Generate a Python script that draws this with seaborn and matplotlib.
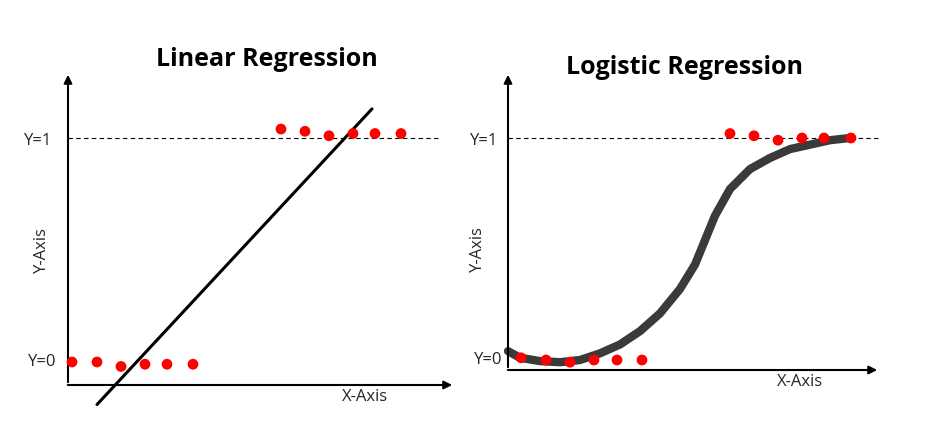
import matplotlib
matplotlib.use("Agg")
import matplotlib.pyplot as plt
import seaborn as sns
import numpy as np

sns.set_theme(style="white")
plt.rcParams['font.family'] = ['Open Sans', 'DejaVu Sans']

# Linear panel data (x units, y in 0..1)
lin_x0 = [0.16, 1.16, 2.12, 3.08, 3.96, 5.0]
lin_y0 = [0.0, 0.0, -0.02, -0.01, -0.01, -0.01]
lin_x1 = [8.52, 9.48, 10.44, 11.4, 12.28, 13.32]
lin_y1 = [1.04, 1.03, 1.01, 1.02, 1.02, 1.02]
lin_line_x = [1.16, 12.16]
lin_line_y = [-0.19, 1.13]

# Logistic panel data
log_x0 = [0.52, 1.52, 2.48, 3.44, 4.36, 5.36]
log_y0 = [0.01, 0.0, -0.01, 0.0, 0.0, 0.0]
log_x1 = [8.88, 9.84, 10.8, 11.76, 12.64, 13.72]
log_y1 = [1.02, 1.01, 0.99, 1.0, 1.0, 1.0]
curve_x = [0.0, 0.48, 1.28, 2.08, 2.88, 3.68, 4.48, 5.28, 6.08, 6.88, 7.48, 7.88,
           8.28, 8.88, 9.68, 10.48, 11.28, 12.08, 12.88, 13.68]
curve_y = [0.04, 0.01, -0.005, -0.01, 0.0, 0.03, 0.07, 0.13, 0.21, 0.32, 0.43, 0.54,
           0.65, 0.77, 0.86, 0.91, 0.95, 0.97, 0.99, 1.0]

fig = plt.figure(figsize=(9.27, 4.41), dpi=100)
ax = fig.add_axes([0, 0, 1, 1])
ax.set_xlim(0, 927); ax.set_ylim(441, 0); ax.axis("off")

def panel(ox, oy0, sx, sy):
    return lambda x, y: (ox + np.asarray(x) * sx, oy0 - np.asarray(y) * sy)

def draw(P, ox, oy, xend, ytop, dash_end, title, tx, ty, ylab_x, xlab_x, label_dx):
    arr = dict(arrowstyle="-|>", color="black", lw=1.5, mutation_scale=12)
    ax.annotate("", xy=(ox, ytop), xytext=(ox, oy), arrowprops=arr)
    ax.annotate("", xy=(xend, oy), xytext=(ox - 3, oy), arrowprops=arr)
    _, y1 = P(0, 1); _, y0 = P(0, 0)
    ax.plot([ox, dash_end], [y1, y1], ls="--", color="black", lw=0.8, dashes=(4, 3))
    ax.text(ox - label_dx, y1 + 3, "Y=1", ha="right", va="center", fontsize=12)
    ax.text(ox - label_dx + 4, y0, "Y=0", ha="right", va="center", fontsize=12)
    ax.text(ylab_x, (y0 + y1) / 2, "Y-Axis", rotation=90, ha="center", va="center", fontsize=12)
    ax.text(xlab_x, oy + 4, "X-Axis", ha="center", va="top", fontsize=12)
    ax.text(tx, ty, title, ha="center", va="center", fontsize=18, fontweight="bold", color="black")

PL = panel(68, 362, 25, 224)
draw(PL, 68, 385, 455, 72, 440, "Linear Regression", 267, 60, 42, 365, 16)
x, y = PL(lin_line_x, lin_line_y)
sns.lineplot(x=x, y=y, ax=ax, color="black", lw=2.2, sort=False)
for xs, ys in [(lin_x0, lin_y0), (lin_x1, lin_y1)]:
    x, y = PL(xs, ys)
    sns.scatterplot(x=x, y=y, ax=ax, color="red", s=60, edgecolor="none", zorder=5)

PR = panel(508, 360, 25, 222)
draw(PR, 508, 370, 880, 72, 880, "Logistic Regression", 685, 68, 478, 800, 10)
x, y = PR(curve_x, curve_y)
sns.lineplot(x=x, y=y, ax=ax, color="#3a3a3a", lw=6, sort=False)
for xs, ys in [(log_x0, log_y0), (log_x1, log_y1)]:
    x, y = PR(xs, ys)
    sns.scatterplot(x=x, y=y, ax=ax, color="red", s=60, edgecolor="none", zorder=5)

fig.savefig("out.png", dpi=100)
